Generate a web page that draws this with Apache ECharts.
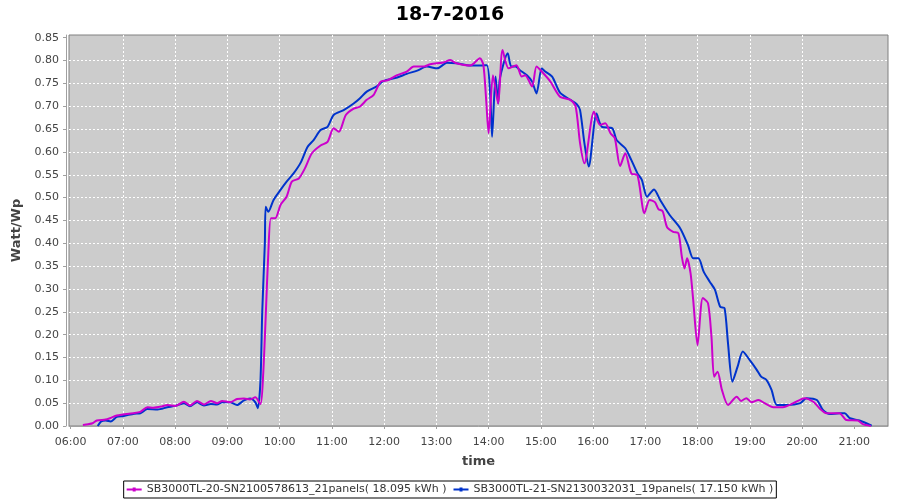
<!DOCTYPE html>
<html>
<head>
<meta charset="utf-8">
<script src="https://cdn.jsdelivr.net/npm/echarts@6/dist/echarts.min.js"></script>
<style>html,body{margin:0;padding:0;background:#fff}#c{width:900px;height:500px}</style>
</head>
<body>
<div id="c"></div>
<script>
const titleText = '18-7-2016';
const nameA = 'SB3000TL-20-SN2100578613_21panels( 18.095 kWh )';
const nameB = 'SB3000TL-21-SN2130032031_19panels( 17.150 kWh )';

const timesA = ['06:14','06:20','06:25','06:30','06:40','06:45','06:53','07:00','07:12','07:20','07:28','07:35','07:45','07:51','08:00','08:10','08:17','08:25','08:33','08:41','08:48','08:54','09:03','09:11','09:19','09:26','09:32','09:38','09:41','09:44','09:47','09:50','09:55','10:01','10:08','10:14','10:22','10:29','10:37','10:47','10:55','11:02','11:08','11:16','11:25','11:32','11:40','11:48','11:56','12:04','12:15','12:26','12:34','12:46','12:53','13:08','13:16','13:23','13:39','13:50','13:54','13:57','14:00','14:05','14:11','14:16','14:23','14:32','14:38','14:42','14:50','14:55','15:01','15:11','15:22','15:34','15:40','15:45','15:50','16:01','16:08','16:14','16:20','16:25','16:31','16:37','16:44','16:51','16:59','17:05','17:11','17:15','17:20','17:25','17:32','17:38','17:42','17:45','17:48','17:52','17:55','18:00','18:06','18:12','18:16','18:19','18:23','18:28','18:35','18:45','18:50','18:56','19:02','19:10','19:17','19:27','19:38','19:50','20:03','20:13','20:20','20:28','20:43','20:51','21:04','21:10','21:19'];
const valuesA = [0.002,0.004,0.006,0.012,0.014,0.017,0.023,0.025,0.028,0.031,0.041,0.040,0.043,0.046,0.044,0.053,0.045,0.055,0.047,0.055,0.050,0.055,0.052,0.059,0.060,0.058,0.063,0.048,0.110,0.240,0.380,0.455,0.455,0.484,0.502,0.535,0.542,0.564,0.597,0.614,0.622,0.652,0.644,0.681,0.695,0.699,0.714,0.725,0.754,0.757,0.768,0.776,0.787,0.787,0.792,0.796,0.801,0.794,0.789,0.805,0.790,0.720,0.641,0.768,0.706,0.823,0.783,0.790,0.765,0.768,0.743,0.787,0.776,0.754,0.721,0.714,0.699,0.620,0.575,0.688,0.659,0.663,0.641,0.630,0.569,0.597,0.553,0.549,0.466,0.495,0.490,0.475,0.470,0.435,0.425,0.422,0.370,0.345,0.367,0.334,0.276,0.177,0.280,0.269,0.195,0.108,0.119,0.079,0.046,0.064,0.055,0.061,0.052,0.057,0.050,0.041,0.041,0.050,0.061,0.053,0.039,0.028,0.028,0.013,0.012,0.004,0.000];

const timesB = ['06:31','06:35','06:40','06:46','06:53','07:01','07:13','07:20','07:28','07:40','07:51','08:00','08:10','08:17','08:25','08:33','08:41','08:48','08:54','09:03','09:11','09:19','09:26','09:32','09:35','09:38','09:40','09:43','09:44','09:47','09:53','10:01','10:08','10:16','10:24','10:32','10:39','10:47','10:55','11:02','11:14','11:25','11:32','11:40','11:52','11:59','12:15','12:26','12:38','12:49','13:01','13:12','13:23','13:39','13:50','13:58','14:02','14:04','14:08','14:11','14:13','14:22','14:26','14:31','14:36','14:44','14:50','14:55','15:01','15:05','15:13','15:22','15:34','15:41','15:45','15:50','15:55','16:04','16:10','16:22','16:27','16:37','16:44','16:51','16:56','17:02','17:10','17:17','17:28','17:40','17:49','17:55','18:01','18:07','18:14','18:20','18:26','18:31','18:35','18:40','18:46','18:52','19:00','19:08','19:13','19:19','19:25','19:31','19:42','19:58','20:05','20:17','20:24','20:32','20:43','20:49','20:55','21:06','21:20'];
const valuesB = [0.000,0.010,0.012,0.010,0.020,0.022,0.027,0.028,0.037,0.036,0.041,0.044,0.050,0.043,0.052,0.045,0.048,0.047,0.052,0.052,0.046,0.056,0.060,0.052,0.039,0.100,0.250,0.400,0.480,0.469,0.495,0.517,0.535,0.553,0.576,0.611,0.626,0.648,0.655,0.681,0.692,0.706,0.717,0.732,0.744,0.755,0.763,0.771,0.778,0.787,0.783,0.795,0.794,0.789,0.789,0.790,0.720,0.633,0.765,0.706,0.761,0.816,0.787,0.787,0.779,0.768,0.754,0.728,0.783,0.776,0.765,0.730,0.714,0.705,0.692,0.620,0.568,0.684,0.655,0.652,0.626,0.608,0.582,0.553,0.539,0.502,0.518,0.495,0.462,0.433,0.396,0.367,0.367,0.338,0.316,0.298,0.261,0.258,0.181,0.097,0.130,0.163,0.144,0.123,0.108,0.101,0.079,0.046,0.046,0.050,0.061,0.057,0.035,0.026,0.028,0.028,0.017,0.012,0.001];

const xTickHours = [6,7,8,9,10,11,12,13,14,15,16,17,18,19,20,21];
const yTickValues = [0,0.05,0.1,0.15,0.2,0.25,0.3,0.35,0.4,0.45,0.5,0.55,0.6,0.65,0.7,0.75,0.8,0.85];

function toHours(t){ const p = t.split(':'); return +p[0] + (+p[1])/60; }
function pairs(ts, vs){ return ts.map((t,i)=>[toHours(t), vs[i]]); }
function fmtHour(v){ const h = Math.round(v); return (h<10?'0':'')+h+':00'; }

const FONT = 'DejaVu Sans';
const chart = echarts.init(document.getElementById('c'), null, {renderer:'canvas'});
chart.setOption({
  animation: false,
  backgroundColor: '#ffffff',
  title: {
    text: titleText, left: 'center', top: 1,
    textStyle: {fontFamily: FONT, fontSize: 19, fontWeight: 'bold', color: '#000'}
  },
  legend: {
    bottom: 2, left: 'center',
    padding: [3, 3],
    itemGap: 7, itemWidth: 15, itemHeight: 14,
    borderColor: '#000', borderWidth: 1, borderRadius: 0,
    icon: 'path://M0,1H15V3H0Z M6,0H9V4H6Z',
    textStyle: {fontFamily: FONT, fontSize: 11, color: '#333'},
    data: [nameA, nameB]
  },
  grid: {
    left: 69, right: 12, top: 35, bottom: 74,
    show: true, backgroundColor: '#cccccc', borderColor: '#808080', borderWidth: 1
  },
  xAxis: {
    type: 'value', min: 5.9675, max: 21.646, offset: 4,
    name: 'time', nameLocation: 'middle', nameGap: 25,
    nameTextStyle: {fontFamily: FONT, fontSize: 13, fontWeight: 'bold', color: '#444'},
    axisLine: {show: true, lineStyle: {color: '#a0a0a0', width: 1}},
    axisTick: {show: true, length: 3, customValues: xTickHours, lineStyle: {color: '#a0a0a0'}},
    axisLabel: {customValues: xTickHours, formatter: fmtHour, margin: 7,
      fontFamily: FONT, fontSize: 11, color: '#444'},
    splitLine: {show: true, showMinLine: false, showMaxLine: false,
      lineStyle: {color: '#ffffff', width: 1, type: [2, 2]}}
  },
  yAxis: {
    type: 'value', min: 0, max: 0.856, offset: 3,
    name: 'Watt/Wp', nameLocation: 'middle', nameGap: 37, nameRotate: 90,
    nameTextStyle: {fontFamily: FONT, fontSize: 13, fontWeight: 'bold', color: '#444'},
    axisLine: {show: true, lineStyle: {color: '#a0a0a0', width: 1}},
    axisTick: {show: true, length: 3, customValues: yTickValues, lineStyle: {color: '#a0a0a0'}},
    axisLabel: {customValues: yTickValues, formatter: v => v.toFixed(2), margin: 7,
      fontFamily: FONT, fontSize: 11, color: '#444'},
    splitLine: {show: true, showMinLine: false, showMaxLine: false,
      lineStyle: {color: '#ffffff', width: 1, type: [2, 2]}}
  },
  series: [
    {name: nameA, type: 'line', data: pairs(timesA, valuesA), showSymbol: false, smooth: 0.25,
      color: '#cc00cc', lineStyle: {width: 2, color: '#cc00cc'}, z: 3},
    {name: nameB, type: 'line', data: pairs(timesB, valuesB), showSymbol: false, smooth: 0.25,
      color: '#0033cc', lineStyle: {width: 2, color: '#0033cc'}, z: 2}
  ]
});
</script>
</body>
</html>
